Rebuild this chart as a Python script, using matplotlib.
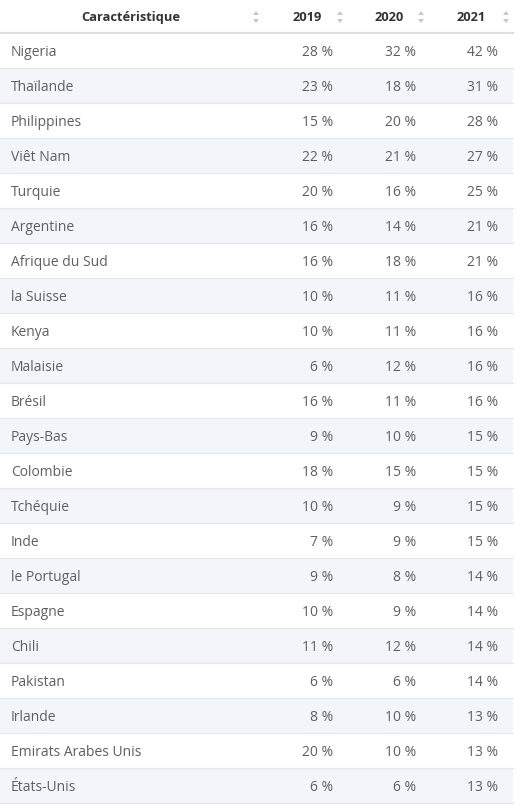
import matplotlib.pyplot as plt
from matplotlib.patches import Rectangle, Polygon

countries = ["Nigeria", "Thaïlande", "Philippines", "Viêt Nam", "Turquie", "Argentine",
             "Afrique du Sud", "la Suisse", "Kenya", "Malaisie", "Brésil", "Pays-Bas",
             "Colombie", "Tchéquie", "Inde", "le Portugal", "Espagne", "Chili", "Pakistan",
             "Irlande", "Emirats Arabes Unis", "États-Unis"]
v2019 = [28, 23, 15, 22, 20, 16, 16, 10, 10, 6, 16, 9, 18, 10, 7, 9, 10, 11, 6, 8, 20, 6]
v2020 = [32, 18, 20, 21, 16, 14, 18, 11, 11, 12, 11, 10, 15, 9, 9, 8, 9, 12, 6, 10, 10, 6]
v2021 = [42, 31, 28, 27, 25, 21, 21, 16, 16, 16, 16, 15, 15, 15, 15, 14, 14, 14, 14, 13, 13, 13]
headers = ["Caractéristique", "2019", "2020", "2021"]

W, H = 522, 808
fig = plt.figure(figsize=(W / 100, H / 100), dpi=100)
ax = fig.add_axes([0, 0, 1, 1])
ax.set_xlim(0, W)
ax.set_ylim(H, 0)
ax.axis("off")

font = ["Open Sans", "DejaVu Sans"]
head_h, row_h, right = 33, 35, 513
val_x = [333, 416, 498]
head_x = [131, 307, 389, 471]
arrow_x = [256, 340, 421, 506]

for i, h in enumerate(headers):
    ax.text(head_x[i], 17.5, h, ha="center", va="center", fontsize=9.3, fontweight="bold",
            color="#333333", family=font)
    ax.add_patch(Polygon([[arrow_x[i] - 3, 15], [arrow_x[i] + 3, 15], [arrow_x[i], 11]],
                         color="#c8c8c8", lw=0))
    ax.add_patch(Polygon([[arrow_x[i] - 3, 19], [arrow_x[i] + 3, 19], [arrow_x[i], 23]],
                         color="#c8c8c8", lw=0))
ax.plot([0, right], [head_h, head_h], color="#dcdfe3", lw=1.5)

for r, name in enumerate(countries):
    top = head_h + r * row_h
    if r % 2 == 1:
        ax.add_patch(Rectangle((0, top), right, row_h, color="#f2f6fa", lw=0))
    ax.plot([0, right], [top + row_h, top + row_h], color="#e3e6ea", lw=0.8)
    yc = top + row_h / 2 + 2
    ax.text(11, yc, name, ha="left", va="center", fontsize=10, color="#5f5f5f", family=font)
    for x, vals in zip(val_x, [v2019, v2020, v2021]):
        ax.text(x, yc, f"{vals[r]} %", ha="right", va="center", fontsize=10,
                color="#5f5f5f", family=font)

fig.savefig("out.png", dpi=100, facecolor="white")
